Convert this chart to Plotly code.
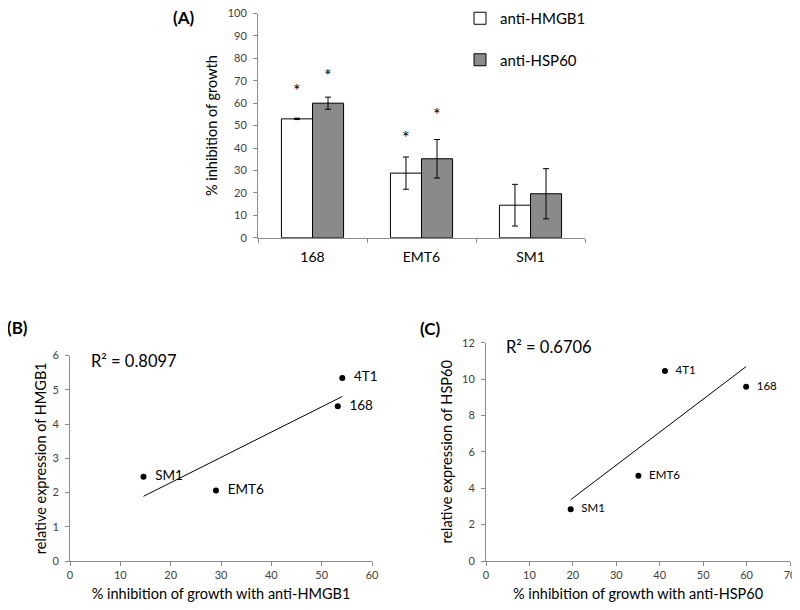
import numpy as np
import plotly.graph_objects as go

# ---- Panel A data ----
cells = ["168", "EMT6", "SM1"]
hmgb1_inh = [53.0, 28.8, 14.5]
hmgb1_err = [0.3, 7.2, 9.3]
hsp60_inh = [60.0, 35.2, 19.6]
hsp60_err = [2.7, 8.6, 11.2]
star_cells = ["168", "168", "EMT6", "EMT6"]
star_series = ["hmgb1", "hsp60", "hmgb1", "hsp60"]
star_y = [66.8, 73.6, 46.0, 56.3]

# ---- Panel B data ----
b_labels = ["168", "EMT6", "SM1", "4T1"]
b_x = [53.2, 29.0, 14.6, 54.1]
b_y = [4.52, 2.06, 2.46, 5.34]
b_r2 = "R² = 0.8097"

# ---- Panel C data ----
c_labels = ["168", "EMT6", "SM1", "4T1"]
c_x = [59.9, 35.1, 19.5, 41.2]
c_y = [9.58, 4.69, 2.84, 10.44]
c_r2 = "R² = 0.6706"

FONT = "Lato"
AX = "#8c8c8c"

# page has an 8px body margin: figure is placed at (8, 8)
OFF = 8
W, H = 800 - OFF, 610 - OFF


def px(x):
    return (x - OFF) / W


def py(y):
    return 1 - (y - OFF) / H


fig = go.Figure()

fig.add_trace(go.Bar(
    x=cells, y=hmgb1_inh, name="anti-HMGB1", legendgroup="a",
    marker=dict(color="white", line=dict(color="black", width=1)),
    error_y=dict(type="data", array=hmgb1_err, color="black", thickness=1, width=3),
    xaxis="x", yaxis="y"))
fig.add_trace(go.Bar(
    x=cells, y=hsp60_inh, name="anti-HSP60", legendgroup="b",
    marker=dict(color="#8a8a8a", line=dict(color="black", width=1)),
    error_y=dict(type="data", array=hsp60_err, color="black", thickness=1, width=3),
    xaxis="x", yaxis="y"))

for cx, cy, cl, rx, ry in [(b_x, b_y, b_labels, "x2", "y2"), (c_x, c_y, c_labels, "x3", "y3")]:
    xs = np.array(cx); ys = np.array(cy)
    m, b = np.polyfit(xs, ys, 1)
    xl = np.array([xs.min(), xs.max()])
    fig.add_trace(go.Scatter(x=xl, y=m * xl + b, mode="lines",
                             line=dict(color="black", width=1), showlegend=False,
                             xaxis=rx, yaxis=ry, hoverinfo="skip"))
    fs = 13.5 if rx == "x2" else 11.5
    fig.add_trace(go.Scatter(x=cx, y=cy, mode="markers+text", cliponaxis=False,
                             text=["  " + t for t in cl], textposition="middle right",
                             textfont=dict(family=FONT, size=fs, color="black"),
                             marker=dict(color="black", size=6), showlegend=False,
                             xaxis=rx, yaxis=ry))

ann = []
for c, s, yv in zip(star_cells, star_series, star_y):
    ann.append(dict(x=cells.index(c), y=yv, xref="x", yref="y", text="*", showarrow=False,
                    xshift=-15.5 if s == "hmgb1" else 15.5, yshift=-2.5,
                    font=dict(family=FONT, size=18, color="black")))
for txt, x, y in [("(A)", 183, 18), ("(B)", 17, 327), ("(C)", 430, 328)]:
    ann.append(dict(x=px(x), y=py(y), xref="paper", yref="paper", text="<b>" + txt + "</b>",
                    showarrow=False, font=dict(family=FONT, size=17, color="black"),
                    xanchor="center", yanchor="middle"))
for txt, x, y in [(b_r2, 89, 361), (c_r2, 504, 347)]:
    ann.append(dict(x=px(x), y=py(y), xref="paper", yref="paper", text=txt, showarrow=False,
                    xanchor="left", yanchor="middle", font=dict(family=FONT, size=16.5, color="black")))

tickfont = dict(family=FONT, size=11, color="#404040")
titlefont = dict(family=FONT, size=14.5, color="black")
common = dict(showline=True, linecolor=AX, linewidth=1, showgrid=False, zeroline=False,
              ticks="outside", tickcolor=AX, ticklen=4, tickfont=tickfont,
              ticklabeloverflow="allow")

fig.update_layout(
    width=W, height=H, margin=dict(l=0, r=0, t=0, b=0, autoexpand=False),
    paper_bgcolor="white", plot_bgcolor="white",
    barmode="group", bargap=0.43, bargroupgap=0,
    font=dict(family=FONT, color="black"),
    showlegend=True,
    legend=dict(x=px(460), y=py(2), xanchor="left", yanchor="top",
                tracegroupgap=19, font=dict(family=FONT, size=15, color="black"),
                bgcolor="rgba(0,0,0,0)"),
    annotations=ann,
    xaxis=dict(domain=[px(258), px(585)], anchor="y", type="category", range=[-0.5, 2.5],
               tickson="boundaries",
               tickfont=dict(family=FONT, size=14, color="black"), ticklabelstandoff=6,
               **{k: v for k, v in common.items() if k != "tickfont"}),
    yaxis=dict(domain=[py(237.7), py(13.5)], anchor="x", range=[0, 100], dtick=10,
               ticklabelstandoff=4,
               title=dict(text="% inhibition of growth", font=titlefont, standoff=6), **common),
    xaxis2=dict(domain=[px(70), px(372)], anchor="y2", range=[0, 60], dtick=10,
                title=dict(text="% inhibition of growth with anti-HMGB1", font=titlefont, standoff=8), **common),
    yaxis2=dict(domain=[py(561), py(355.5)], anchor="x2", range=[0, 6], dtick=1,
                ticklabelstandoff=4,
                title=dict(text="relative expression of HMGB1", font=titlefont, standoff=2), **common),
    xaxis3=dict(domain=[px(486), px(790)], anchor="y3", range=[0, 70], dtick=10,
                title=dict(text="% inhibition of growth with anti-HSP60", font=titlefont, standoff=8), **common),
    yaxis3=dict(domain=[py(561), py(342.7)], anchor="x3", range=[0, 12], dtick=2,
                ticklabelstandoff=4,
                title=dict(text="relative expression of HSP60", font=titlefont, standoff=5), **common),
)

fig.write_html("out.html")
